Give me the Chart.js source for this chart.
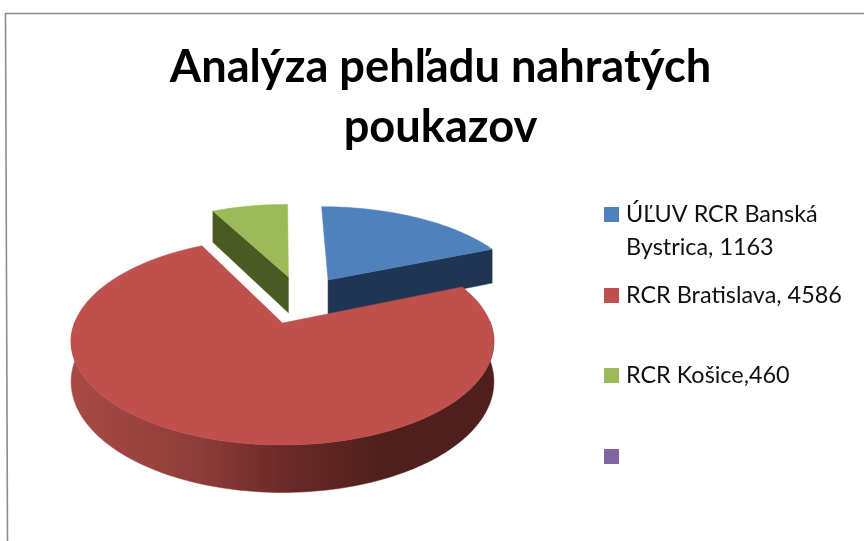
<!DOCTYPE html>
<html><head><meta charset="utf-8">
<style>html,body{margin:0;padding:0;background:#fff}canvas{display:block}</style>
<script src="https://cdn.jsdelivr.net/npm/chart.js@4"></script>
</head><body><canvas id="c" width="864" height="541"></canvas>
<script>
const titleLines = ['Analýza pehľadu nahratých', 'poukazov'];
const categories = ['ÚĽUV RCR Banská Bystrica', 'RCR Bratislava', 'RCR Košice', ''];
const values = [1163, 4586, 460, 0];
const legendLines = [['ÚĽUV RCR Banská', 'Bystrica, 1163'], ['RCR Bratislava, 4586'], ['RCR Košice,460'], ['']];
const topColors = ['#4F81BD', '#BF504D', '#9BBB59', '#8064A2'];
const wallColors = ['#1F3552', '#8A3A38', '#4A5A22', '#40325A'];

const VIEW = {cx: 282.5, cy: 323, R: 208, Rk: 100.2, p: 0.1786, depth: 39};

function project(X, Y, drop) {
  const w = 1 - VIEW.p * Y;
  return [VIEW.cx + VIEW.R * X / w, VIEW.cy + VIEW.Rk * Y / w + drop / w];
}
function mid(a) { return (a.startAngle + a.endAngle) / 2; }
function sliceOffset(a) {
  const e = a.options.offset / a.outerRadius;
  return [e * Math.cos(mid(a)), e * Math.sin(mid(a))];
}

const pie3d = {
  id: 'pie3d',
  beforeDraw(chart) {
    const ctx = chart.ctx;
    ctx.save();
    ctx.strokeStyle = '#8c8c8c';
    ctx.lineWidth = 1.6;
    ctx.beginPath();
    ctx.moveTo(864, 13.5); ctx.lineTo(5.5, 13.5); ctx.lineTo(7.5, 541);
    ctx.stroke();
    ctx.restore();
  },
  beforeDatasetDraw(chart) {
    const ctx = chart.ctx;
    const arcs = chart.getDatasetMeta(0).data;
    const largest = arcs.reduce((m, a) => (a.endAngle - a.startAngle > m.endAngle - m.startAngle ? a : m), arcs[0]);
    const base = sliceOffset(largest);
    const order = arcs.map((a, i) => i).filter(i => values[i] > 0)
      .sort((i, j) => sliceOffset(arcs[i])[1] - sliceOffset(arcs[j])[1]);
    ctx.save();
    for (const i of order) {
      const a = arcs[i];
      const off = sliceOffset(a);
      const ox = off[0] - base[0], oy = off[1] - base[1];
      const n = Math.max(8, Math.ceil((a.endAngle - a.startAngle) * 40));
      const rim = [], front = [];
      for (let s = 0; s <= n; s++) {
        const t = a.startAngle + (a.endAngle - a.startAngle) * s / n;
        const q = [ox + Math.cos(t), oy + Math.sin(t)];
        rim.push(q);
        if (Math.sin(t) >= -0.02) front.push(q);
      }
      const apex = [ox, oy];
      const poly = (pts, fill) => {
        ctx.beginPath();
        pts.forEach((q, k) => k ? ctx.lineTo(q[0], q[1]) : ctx.moveTo(q[0], q[1]));
        ctx.closePath();
        ctx.fillStyle = fill; ctx.strokeStyle = fill; ctx.lineWidth = 0.5;
        ctx.fill(); ctx.stroke();
      };
      // outer wall: only the part of the rim facing the viewer
      let wall = wallColors[i];
      if (a === largest) {
        const g = ctx.createLinearGradient(VIEW.cx - 212, 0, VIEW.cx + 212, 0);
        g.addColorStop(0, '#A84A46');
        g.addColorStop(0.3, '#8E3D3A');
        g.addColorStop(0.5, '#6B2A27');
        g.addColorStop(0.75, '#4E1F1C');
        g.addColorStop(1, '#4E1F1C');
        wall = g;
      }
      if (front.length > 1) {
        const fUp = front.map(q => project(q[0], q[1], 0));
        const fDown = front.map(q => project(q[0], q[1], VIEW.depth)).reverse();
        poly(fUp.concat(fDown), wall);
      }
      // radial faces that look towards the viewer
      [[rim[0], a.startAngle - Math.PI / 2], [rim[n], a.endAngle + Math.PI / 2]].forEach(([q, normal]) => {
        if (Math.sin(normal) <= 0.01) return;
        poly([project(apex[0], apex[1], 0), project(q[0], q[1], 0),
              project(q[0], q[1], VIEW.depth), project(apex[0], apex[1], VIEW.depth)],
             a === largest ? '#4E1F1C' : wallColors[i]);
      });
      // top
      poly([project(apex[0], apex[1], 0)].concat(rim.map(q => project(q[0], q[1], 0))), topColors[i]);
    }
    ctx.restore();
    return false;
  },
  afterDraw(chart) {
    const ctx = chart.ctx;
    ctx.save();
    ctx.textBaseline = 'middle';
    ctx.textAlign = 'left';
    ctx.font = '23.4px Lato';
    const rows = [214.5, 295.5, 375.5, 456.5];
    legendLines.forEach((lines, i) => {
      ctx.fillStyle = topColors[i];
      ctx.fillRect(604, rows[i] - 7.5, 15, 15);
      ctx.fillStyle = '#111';
      lines.forEach((s, k) => { if (s) ctx.fillText(s, 626, rows[i] + k * 33); });
    });
    ctx.restore();
  }
};

new Chart(document.getElementById('c'), {
  type: 'pie',
  data: {
    labels: categories,
    datasets: [{
      data: values,
      backgroundColor: topColors,
      borderWidth: 0,
      offset: 42
    }]
  },
  options: {
    responsive: false,
    animation: false,
    radius: 160,
    layout: {padding: {left: 17}},
    plugins: {
      legend: {display: false},
      tooltip: {enabled: false},
      title: {
        display: true,
        text: titleLines,
        color: '#000',
        font: {family: 'Lato', weight: 'bold', size: 45.2, lineHeight: 1.327},
        padding: {top: 37, bottom: 0}
      }
    }
  },
  plugins: [pie3d]
});
</script></body></html>
